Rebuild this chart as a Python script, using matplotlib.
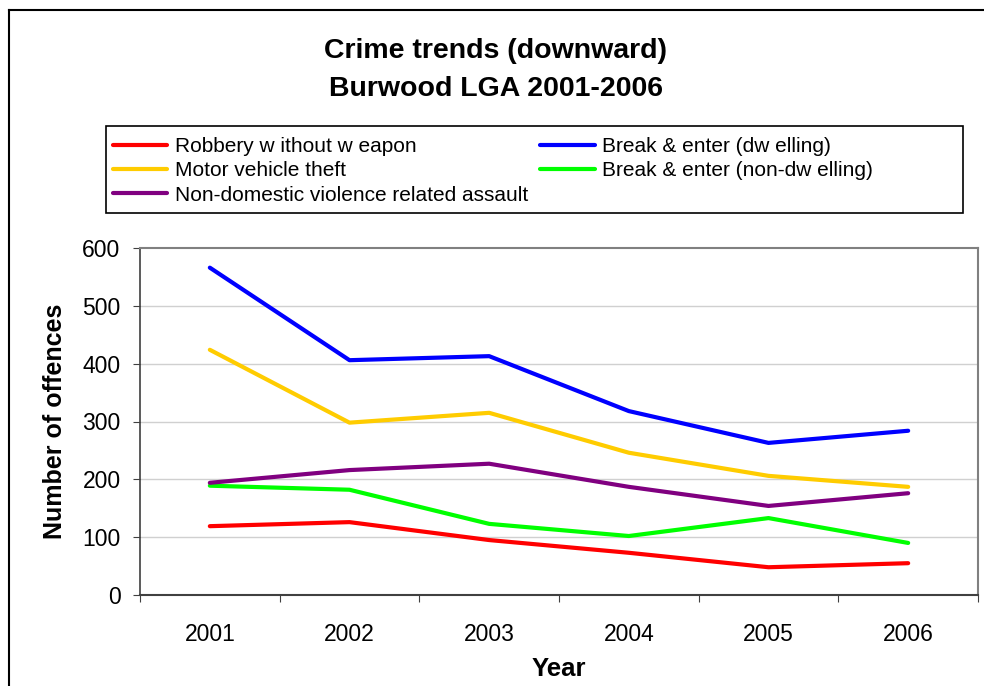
import numpy as np
import matplotlib.pyplot as plt
from matplotlib.patches import Rectangle
from matplotlib.lines import Line2D

plt.rcParams['font.family'] = ['Liberation Sans', 'DejaVu Sans']

years = ['2001', '2002', '2003', '2004', '2005', '2006']
robbery = [119, 126, 95, 73, 48, 55]
be_dwelling = [566, 406, 413, 318, 263, 284]
motor_vehicle = [424, 298, 315, 246, 206, 187]
be_non_dwelling = [189, 182, 123, 102, 133, 90]
assault = [194, 216, 227, 187, 154, 176]

labels = ['Robbery w ithout w eapon', 'Break & enter (dw elling)', 'Motor vehicle theft',
          'Break & enter (non-dw elling)', 'Non-domestic violence related assault']
colors = ['#ff0000', '#0000ff', '#ffcc00', '#00ff00', '#800080']
series = [robbery, be_dwelling, motor_vehicle, be_non_dwelling, assault]

W, H = 984, 686
fig = plt.figure(figsize=(W / 100, H / 100), dpi=100)
ax = fig.add_axes([140 / W, 1 - 595 / H, (978 - 140) / W, (595 - 248) / H])

x = np.arange(len(years))
lines = {}
for lab, col, s in zip(labels, colors, series):
    lines[lab], = ax.plot(x, s, color=col, lw=3, solid_capstyle='round', zorder=3)

ax.set_xlim(-0.5, len(years) - 0.5)
ax.set_ylim(0, 600)
ax.set_yticks(np.arange(0, 601, 100))
ax.set_xticks(np.arange(-0.5, len(years), 1))
ax.set_xticklabels([])
ax.set_xticks(x, minor=True)
ax.set_xticklabels(years, minor=True)
ax.tick_params(axis='x', which='minor', length=0, pad=20, labelsize=16.5)
ax.tick_params(axis='x', which='major', length=5, direction='out', color='#404040')
ax.tick_params(axis='y', length=5, direction='out', pad=9, labelsize=16.5, color='#404040')

for yv in range(100, 600, 100):
    ax.axhline(yv, color='#d0d0d0', lw=1, zorder=1)

ax.spines['top'].set_color('#808080')
ax.spines['right'].set_color('#808080')
ax.spines['top'].set_linewidth(1.5)
ax.spines['right'].set_linewidth(1.5)
ax.spines['left'].set_color('#404040')
ax.spines['bottom'].set_color('#404040')
ax.spines['left'].set_linewidth(1.2)
ax.spines['bottom'].set_linewidth(1.5)

ax.set_xlabel('Year', fontsize=18.5, fontweight='bold', labelpad=8)
ax.set_ylabel('Number of offences', fontsize=18, fontweight='bold', labelpad=11)

fig.text(496 / W, 1 - 70 / H, 'Crime trends (downward)\nBurwood LGA 2001-2006',
         ha='center', va='center', fontsize=20.5, fontweight='bold', linespacing=1.6)

# legend frame
fig.add_artist(Rectangle((106 / W, 1 - 213 / H), (963 - 106) / W, (213 - 126) / H,
                         transform=fig.transFigure, fill=False, edgecolor='black', lw=1.2))
order = [labels[0], labels[2], labels[4], labels[1], labels[3]]
fig.legend([lines[l] for l in order], order, loc='upper left',
           bbox_to_anchor=(109 / W, 1 - 133 / H), ncol=2, frameon=False,
           fontsize=15, handlelength=2.6, handletextpad=0.35, columnspacing=0.6,
           labelspacing=0.25, borderpad=0.2, borderaxespad=0)

# outer chart border
fig.add_artist(Line2D([9 / W, 1], [1 - 10 / H, 1 - 10 / H], transform=fig.transFigure, color='black', lw=1.5))
fig.add_artist(Line2D([9 / W, 9 / W], [0, 1 - 10 / H], transform=fig.transFigure, color='black', lw=1.5))

fig.savefig('out.png', dpi=100)
